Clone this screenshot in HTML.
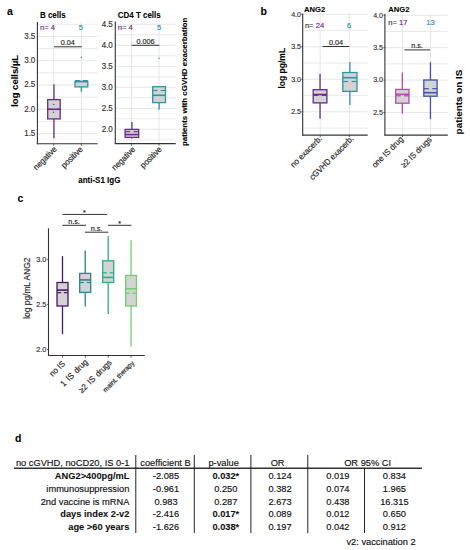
<!DOCTYPE html><html><head><meta charset="utf-8"><style>html,body{margin:0;padding:0;background:#fff;}svg{display:block;}text{font-family:"Liberation Sans", sans-serif;paint-order:stroke;stroke-width:0.15px;stroke-linejoin:round;}</style></head><body>
<svg width="470" height="550" viewBox="0 0 470 550">
<rect width="470" height="550" fill="#fff"/>
<text x="0" y="0" font-size="10.5" text-anchor="start" font-weight="bold" fill="#000" stroke="#000" transform="translate(7 15) scale(1 1.05)" style="stroke-width:0.08px">a</text>
<line x1="37.4" y1="121.45" x2="97.6" y2="121.45" stroke="#e8e8e8" stroke-width="0.9"/>
<line x1="37.4" y1="97.15" x2="97.6" y2="97.15" stroke="#e8e8e8" stroke-width="0.9"/>
<line x1="37.4" y1="72.85" x2="97.6" y2="72.85" stroke="#e8e8e8" stroke-width="0.9"/>
<line x1="37.4" y1="48.55" x2="97.6" y2="48.55" stroke="#e8e8e8" stroke-width="0.9"/>
<line x1="37.4" y1="24.25" x2="97.6" y2="24.25" stroke="#e8e8e8" stroke-width="0.9"/>
<line x1="37.4" y1="133.6" x2="97.6" y2="133.6" stroke="#e3e3e3" stroke-width="0.9"/>
<line x1="37.4" y1="109.3" x2="97.6" y2="109.3" stroke="#e3e3e3" stroke-width="0.9"/>
<line x1="37.4" y1="85.0" x2="97.6" y2="85.0" stroke="#e3e3e3" stroke-width="0.9"/>
<line x1="37.4" y1="60.7" x2="97.6" y2="60.7" stroke="#e3e3e3" stroke-width="0.9"/>
<line x1="37.4" y1="36.4" x2="97.6" y2="36.4" stroke="#e3e3e3" stroke-width="0.9"/>
<line x1="53.8" y1="22" x2="53.8" y2="143.8" stroke="#e3e3e3" stroke-width="0.9"/>
<line x1="81.4" y1="22" x2="81.4" y2="143.8" stroke="#e3e3e3" stroke-width="0.9"/>
<line x1="37.4" y1="22" x2="37.4" y2="144.3" stroke="#333333" stroke-width="1.1"/>
<line x1="36.9" y1="143.8" x2="97.6" y2="143.8" stroke="#333333" stroke-width="1.1"/>
<text x="0" y="0" font-size="8" text-anchor="end" font-weight="normal" fill="#333333" stroke="#333333" transform="translate(35.3 135.9) scale(1 1.05)">1.5</text>
<text x="0" y="0" font-size="8" text-anchor="end" font-weight="normal" fill="#333333" stroke="#333333" transform="translate(35.3 111.6) scale(1 1.05)">2.0</text>
<text x="0" y="0" font-size="8" text-anchor="end" font-weight="normal" fill="#333333" stroke="#333333" transform="translate(35.3 87.3) scale(1 1.05)">2.5</text>
<text x="0" y="0" font-size="8" text-anchor="end" font-weight="normal" fill="#333333" stroke="#333333" transform="translate(35.3 63.0) scale(1 1.05)">3.0</text>
<text x="0" y="0" font-size="8" text-anchor="end" font-weight="normal" fill="#333333" stroke="#333333" transform="translate(35.3 38.7) scale(1 1.05)">3.5</text>
<line x1="53.8" y1="143.8" x2="53.8" y2="145.8" stroke="#333333" stroke-width="0.8"/>
<line x1="81.4" y1="143.8" x2="81.4" y2="145.8" stroke="#333333" stroke-width="0.8"/>
<text x="0" y="0" font-size="8" text-anchor="start" font-weight="bold" fill="#000" stroke="#000" transform="translate(39.9 18.2) scale(1 1.05)" style="stroke-width:0.08px">B cells</text>
<text x="0" y="0" font-size="7.6" text-anchor="start" font-weight="normal" fill="#6a2a88" stroke="#6a2a88" transform="translate(40 30.2) scale(1 1.05)">n= 4</text>
<text x="0" y="0" font-size="7.6" text-anchor="middle" font-weight="normal" fill="#2f93a2" stroke="#2f93a2" transform="translate(80.8 30.2) scale(1 1.05)">5</text>
<line x1="54.1" y1="46.8" x2="81.8" y2="46.8" stroke="#333" stroke-width="1"/>
<text x="0" y="0" font-size="7.2" text-anchor="middle" font-weight="normal" fill="#222" stroke="#222" transform="translate(67.8 45) scale(1 1.05)">0.04</text>
<line x1="53.95" y1="84.2" x2="53.95" y2="99.6" stroke="#6a2a88" stroke-width="1.3"/>
<line x1="53.95" y1="118.9" x2="53.95" y2="138.3" stroke="#6a2a88" stroke-width="1.3"/>
<rect x="47.7" y="99.6" width="12.5" height="19.3" fill="#d3d3d3" stroke="#6a2a88" stroke-width="1.3"/>
<line x1="47.7" y1="109.3" x2="60.2" y2="109.3" stroke="#6a2a88" stroke-width="1.56"/>
<line x1="47.7" y1="109.3" x2="52.39" y2="109.3" stroke="#6a2a88" stroke-width="1.17"/>
<line x1="55.51" y1="109.3" x2="60.2" y2="109.3" stroke="#6a2a88" stroke-width="1.17"/>
<circle cx="53.8" cy="104.5" r="0.7" fill="#6a2a88"/><circle cx="53.5" cy="112.2" r="0.7" fill="#6a2a88"/>
<line x1="81.4" y1="81.4" x2="81.4" y2="81.4" stroke="#2f93a2" stroke-width="1.3"/>
<line x1="81.4" y1="86.9" x2="81.4" y2="91.7" stroke="#2f93a2" stroke-width="1.3"/>
<rect x="75.0" y="81.4" width="12.8" height="5.5" fill="#d3d3d3" stroke="#2f93a2" stroke-width="1.3"/>
<line x1="75.0" y1="81.6" x2="87.8" y2="81.6" stroke="#2f93a2" stroke-width="1.56"/>
<line x1="75.0" y1="80.6" x2="79.8" y2="80.6" stroke="#2f93a2" stroke-width="1.17"/>
<line x1="83.0" y1="80.6" x2="87.8" y2="80.6" stroke="#2f93a2" stroke-width="1.17"/>
<circle cx="81.4" cy="57.5" r="0.7" fill="#2f93a2"/>
<line x1="115.3" y1="139.8" x2="175.7" y2="139.8" stroke="#e8e8e8" stroke-width="0.9"/>
<line x1="115.3" y1="118.8" x2="175.7" y2="118.8" stroke="#e8e8e8" stroke-width="0.9"/>
<line x1="115.3" y1="97.8" x2="175.7" y2="97.8" stroke="#e8e8e8" stroke-width="0.9"/>
<line x1="115.3" y1="76.8" x2="175.7" y2="76.8" stroke="#e8e8e8" stroke-width="0.9"/>
<line x1="115.3" y1="55.8" x2="175.7" y2="55.8" stroke="#e8e8e8" stroke-width="0.9"/>
<line x1="115.3" y1="34.8" x2="175.7" y2="34.8" stroke="#e8e8e8" stroke-width="0.9"/>
<line x1="115.3" y1="129.3" x2="175.7" y2="129.3" stroke="#e3e3e3" stroke-width="0.9"/>
<line x1="115.3" y1="108.3" x2="175.7" y2="108.3" stroke="#e3e3e3" stroke-width="0.9"/>
<line x1="115.3" y1="87.3" x2="175.7" y2="87.3" stroke="#e3e3e3" stroke-width="0.9"/>
<line x1="115.3" y1="66.3" x2="175.7" y2="66.3" stroke="#e3e3e3" stroke-width="0.9"/>
<line x1="115.3" y1="45.3" x2="175.7" y2="45.3" stroke="#e3e3e3" stroke-width="0.9"/>
<line x1="115.3" y1="24.3" x2="175.7" y2="24.3" stroke="#e3e3e3" stroke-width="0.9"/>
<line x1="131.6" y1="21.6" x2="131.6" y2="143.6" stroke="#e3e3e3" stroke-width="0.9"/>
<line x1="159" y1="21.6" x2="159" y2="143.6" stroke="#e3e3e3" stroke-width="0.9"/>
<line x1="115.3" y1="21.6" x2="115.3" y2="144.1" stroke="#333333" stroke-width="1.1"/>
<line x1="114.8" y1="143.6" x2="175.7" y2="143.6" stroke="#333333" stroke-width="1.1"/>
<text x="0" y="0" font-size="8" text-anchor="end" font-weight="normal" fill="#333333" stroke="#333333" transform="translate(112.8 131.6) scale(1 1.05)">2.0</text>
<text x="0" y="0" font-size="8" text-anchor="end" font-weight="normal" fill="#333333" stroke="#333333" transform="translate(112.8 110.6) scale(1 1.05)">2.5</text>
<text x="0" y="0" font-size="8" text-anchor="end" font-weight="normal" fill="#333333" stroke="#333333" transform="translate(112.8 89.6) scale(1 1.05)">3.0</text>
<text x="0" y="0" font-size="8" text-anchor="end" font-weight="normal" fill="#333333" stroke="#333333" transform="translate(112.8 68.6) scale(1 1.05)">3.5</text>
<text x="0" y="0" font-size="8" text-anchor="end" font-weight="normal" fill="#333333" stroke="#333333" transform="translate(112.8 47.6) scale(1 1.05)">4.0</text>
<text x="0" y="0" font-size="8" text-anchor="end" font-weight="normal" fill="#333333" stroke="#333333" transform="translate(112.8 26.6) scale(1 1.05)">4.5</text>
<line x1="131.6" y1="143.6" x2="131.6" y2="145.6" stroke="#333333" stroke-width="0.8"/>
<line x1="159" y1="143.6" x2="159" y2="145.6" stroke="#333333" stroke-width="0.8"/>
<text x="0" y="0" font-size="8" text-anchor="start" font-weight="bold" fill="#000" stroke="#000" transform="translate(117.7 18) scale(1 1.05)" style="stroke-width:0.08px">CD4 T cells</text>
<text x="0" y="0" font-size="7.6" text-anchor="start" font-weight="normal" fill="#6a2a88" stroke="#6a2a88" transform="translate(117.7 30.4) scale(1 1.05)">n= 4</text>
<text x="0" y="0" font-size="7.6" text-anchor="middle" font-weight="normal" fill="#2f93a2" stroke="#2f93a2" transform="translate(159 30.4) scale(1 1.05)">5</text>
<line x1="131.6" y1="45.3" x2="159.4" y2="45.3" stroke="#333" stroke-width="1"/>
<text x="0" y="0" font-size="7.2" text-anchor="middle" font-weight="normal" fill="#222" stroke="#222" transform="translate(145.4 43.5) scale(1 1.05)">0.006</text>
<line x1="131.9" y1="122.1" x2="131.9" y2="129.4" stroke="#6a2a88" stroke-width="1.3"/>
<line x1="131.9" y1="137.4" x2="131.9" y2="138.4" stroke="#6a2a88" stroke-width="1.3"/>
<rect x="125.1" y="129.4" width="13.6" height="8.0" fill="#d3d3d3" stroke="#6a2a88" stroke-width="1.3"/>
<line x1="125.1" y1="134.6" x2="138.7" y2="134.6" stroke="#6a2a88" stroke-width="1.56"/>
<line x1="125.1" y1="131.7" x2="130.2" y2="131.7" stroke="#6a2a88" stroke-width="1.17"/>
<line x1="133.6" y1="131.7" x2="138.7" y2="131.7" stroke="#6a2a88" stroke-width="1.17"/>
<line x1="159.1" y1="86.7" x2="159.1" y2="86.7" stroke="#2f93a2" stroke-width="1.3"/>
<line x1="159.1" y1="102.6" x2="159.1" y2="109.7" stroke="#2f93a2" stroke-width="1.3"/>
<rect x="152.7" y="86.7" width="12.8" height="15.9" fill="#d3d3d3" stroke="#2f93a2" stroke-width="1.3"/>
<line x1="152.7" y1="95.3" x2="165.5" y2="95.3" stroke="#2f93a2" stroke-width="1.56"/>
<line x1="152.7" y1="90.5" x2="157.5" y2="90.5" stroke="#2f93a2" stroke-width="1.17"/>
<line x1="160.7" y1="90.5" x2="165.5" y2="90.5" stroke="#2f93a2" stroke-width="1.17"/>
<circle cx="159" cy="58.3" r="0.7" fill="#2f93a2"/>
<text x="18.2" y="80.8" font-size="9.5" text-anchor="middle" font-weight="bold" fill="#000" stroke="#000" transform="rotate(-90 18.2 80.8)" style="stroke-width:0.08px">log cells/µL</text>
<text x="187.5" y="81.8" font-size="7.9" text-anchor="middle" font-weight="bold" fill="#000" stroke="#000" transform="rotate(-90 187.5 81.8)" style="stroke-width:0.08px">patients with cGVHD exacerbation</text>
<text x="0" y="0" font-size="8" text-anchor="middle" font-weight="bold" fill="#000" stroke="#000" transform="translate(99.3 182.8) scale(1 1.05)" style="stroke-width:0.08px">anti-S1 IgG</text>
<text x="0" y="0" font-size="7.8" text-anchor="end" fill="#222" stroke="#222" transform="translate(57.4 149.7) rotate(-45) scale(1 1.08)">negative</text>
<text x="0" y="0" font-size="7.8" text-anchor="end" fill="#222" stroke="#222" transform="translate(83.2 150) rotate(-45) scale(1 1.08)">positive</text>
<text x="0" y="0" font-size="7.8" text-anchor="end" fill="#222" stroke="#222" transform="translate(135.9 150) rotate(-45) scale(1 1.08)">negative</text>
<text x="0" y="0" font-size="7.8" text-anchor="end" fill="#222" stroke="#222" transform="translate(162.3 150) rotate(-45) scale(1 1.08)">positive</text>
<text x="0" y="0" font-size="10.5" text-anchor="start" font-weight="bold" fill="#000" stroke="#000" transform="translate(260.5 15) scale(1 1.05)" style="stroke-width:0.08px">b</text>
<line x1="302.7" y1="128.05" x2="367.7" y2="128.05" stroke="#e8e8e8" stroke-width="0.9"/>
<line x1="302.7" y1="95.55" x2="367.7" y2="95.55" stroke="#e8e8e8" stroke-width="0.9"/>
<line x1="302.7" y1="63.05" x2="367.7" y2="63.05" stroke="#e8e8e8" stroke-width="0.9"/>
<line x1="302.7" y1="30.55" x2="367.7" y2="30.55" stroke="#e8e8e8" stroke-width="0.9"/>
<line x1="302.7" y1="111.8" x2="367.7" y2="111.8" stroke="#e3e3e3" stroke-width="0.9"/>
<line x1="302.7" y1="79.3" x2="367.7" y2="79.3" stroke="#e3e3e3" stroke-width="0.9"/>
<line x1="302.7" y1="46.8" x2="367.7" y2="46.8" stroke="#e3e3e3" stroke-width="0.9"/>
<line x1="302.7" y1="14.3" x2="367.7" y2="14.3" stroke="#e3e3e3" stroke-width="0.9"/>
<line x1="320.2" y1="13.4" x2="320.2" y2="135.1" stroke="#e3e3e3" stroke-width="0.9"/>
<line x1="349.3" y1="13.4" x2="349.3" y2="135.1" stroke="#e3e3e3" stroke-width="0.9"/>
<line x1="302.7" y1="13.4" x2="302.7" y2="135.6" stroke="#333333" stroke-width="1.1"/>
<line x1="302.2" y1="135.1" x2="367.7" y2="135.1" stroke="#333333" stroke-width="1.1"/>
<line x1="301.2" y1="111.8" x2="302.7" y2="111.8" stroke="#333333" stroke-width="0.8"/>
<text x="0" y="0" font-size="7.1" text-anchor="end" font-weight="normal" fill="#333333" stroke="#333333" transform="translate(301 114.1) scale(1 1.05)">2.5</text>
<line x1="301.2" y1="79.3" x2="302.7" y2="79.3" stroke="#333333" stroke-width="0.8"/>
<text x="0" y="0" font-size="7.1" text-anchor="end" font-weight="normal" fill="#333333" stroke="#333333" transform="translate(301 81.6) scale(1 1.05)">3.0</text>
<line x1="301.2" y1="46.8" x2="302.7" y2="46.8" stroke="#333333" stroke-width="0.8"/>
<text x="0" y="0" font-size="7.1" text-anchor="end" font-weight="normal" fill="#333333" stroke="#333333" transform="translate(301 49.1) scale(1 1.05)">3.5</text>
<line x1="301.2" y1="14.3" x2="302.7" y2="14.3" stroke="#333333" stroke-width="0.8"/>
<text x="0" y="0" font-size="7.1" text-anchor="end" font-weight="normal" fill="#333333" stroke="#333333" transform="translate(301 16.6) scale(1 1.05)">4.0</text>
<line x1="320.2" y1="135.1" x2="320.2" y2="137.1" stroke="#333333" stroke-width="0.8"/>
<line x1="349.3" y1="135.1" x2="349.3" y2="137.1" stroke="#333333" stroke-width="0.8"/>
<text x="0" y="0" font-size="7.6" text-anchor="start" font-weight="bold" fill="#000" stroke="#000" transform="translate(304.1 11.6) scale(1 1.05)" style="stroke-width:0.08px">ANG2</text>
<text x="0" y="0" font-size="7.6" fill="#333" stroke="#333" transform="translate(304.9 27.6) scale(1 1.05)">n= <tspan fill="#6a2a88" stroke="#6a2a88">24</tspan></text>
<text x="0" y="0" font-size="7.6" text-anchor="middle" font-weight="normal" fill="#2f93a2" stroke="#2f93a2" transform="translate(349.1 27.6) scale(1 1.05)">6</text>
<line x1="322.6" y1="46.5" x2="349.3" y2="46.5" stroke="#333" stroke-width="1"/>
<text x="0" y="0" font-size="7.2" text-anchor="middle" font-weight="normal" fill="#222" stroke="#222" transform="translate(335.9 44.8) scale(1 1.05)">0.04</text>
<line x1="320.05" y1="73.8" x2="320.05" y2="89.7" stroke="#6a2a88" stroke-width="1.3"/>
<line x1="320.05" y1="102.9" x2="320.05" y2="118.8" stroke="#6a2a88" stroke-width="1.3"/>
<rect x="313.2" y="89.7" width="13.7" height="13.2" fill="#d3d3d3" stroke="#6a2a88" stroke-width="1.3"/>
<line x1="313.2" y1="94.5" x2="326.9" y2="94.5" stroke="#6a2a88" stroke-width="1.56"/>
<line x1="313.2" y1="95.3" x2="318.34" y2="95.3" stroke="#6a2a88" stroke-width="1.17"/>
<line x1="321.76" y1="95.3" x2="326.9" y2="95.3" stroke="#6a2a88" stroke-width="1.17"/>
<line x1="349.9" y1="62.1" x2="349.9" y2="72.5" stroke="#2f93a2" stroke-width="1.3"/>
<line x1="349.9" y1="91.4" x2="349.9" y2="104.9" stroke="#2f93a2" stroke-width="1.3"/>
<rect x="342.8" y="72.5" width="14.2" height="18.9" fill="#d3d3d3" stroke="#2f93a2" stroke-width="1.3"/>
<line x1="342.8" y1="77.7" x2="357.0" y2="77.7" stroke="#2f93a2" stroke-width="1.56"/>
<line x1="342.8" y1="81.5" x2="348.12" y2="81.5" stroke="#2f93a2" stroke-width="1.17"/>
<line x1="351.67" y1="81.5" x2="357.0" y2="81.5" stroke="#2f93a2" stroke-width="1.17"/>
<line x1="384.9" y1="128.7" x2="447.8" y2="128.7" stroke="#e8e8e8" stroke-width="0.9"/>
<line x1="384.9" y1="96.3" x2="447.8" y2="96.3" stroke="#e8e8e8" stroke-width="0.9"/>
<line x1="384.9" y1="63.9" x2="447.8" y2="63.9" stroke="#e8e8e8" stroke-width="0.9"/>
<line x1="384.9" y1="31.5" x2="447.8" y2="31.5" stroke="#e8e8e8" stroke-width="0.9"/>
<line x1="384.9" y1="112.5" x2="447.8" y2="112.5" stroke="#e3e3e3" stroke-width="0.9"/>
<line x1="384.9" y1="80.1" x2="447.8" y2="80.1" stroke="#e3e3e3" stroke-width="0.9"/>
<line x1="384.9" y1="47.7" x2="447.8" y2="47.7" stroke="#e3e3e3" stroke-width="0.9"/>
<line x1="384.9" y1="15.3" x2="447.8" y2="15.3" stroke="#e3e3e3" stroke-width="0.9"/>
<line x1="402.5" y1="13.8" x2="402.5" y2="135.1" stroke="#e3e3e3" stroke-width="0.9"/>
<line x1="430.5" y1="13.8" x2="430.5" y2="135.1" stroke="#e3e3e3" stroke-width="0.9"/>
<line x1="384.9" y1="13.8" x2="384.9" y2="135.6" stroke="#333333" stroke-width="1.1"/>
<line x1="384.4" y1="135.1" x2="447.8" y2="135.1" stroke="#333333" stroke-width="1.1"/>
<line x1="383.4" y1="112.5" x2="384.9" y2="112.5" stroke="#333333" stroke-width="0.8"/>
<text x="0" y="0" font-size="7.1" text-anchor="end" font-weight="normal" fill="#333333" stroke="#333333" transform="translate(383 114.8) scale(1 1.05)">2.5</text>
<line x1="383.4" y1="80.1" x2="384.9" y2="80.1" stroke="#333333" stroke-width="0.8"/>
<text x="0" y="0" font-size="7.1" text-anchor="end" font-weight="normal" fill="#333333" stroke="#333333" transform="translate(383 82.4) scale(1 1.05)">3.0</text>
<line x1="383.4" y1="47.7" x2="384.9" y2="47.7" stroke="#333333" stroke-width="0.8"/>
<text x="0" y="0" font-size="7.1" text-anchor="end" font-weight="normal" fill="#333333" stroke="#333333" transform="translate(383 50.0) scale(1 1.05)">3.5</text>
<line x1="383.4" y1="15.3" x2="384.9" y2="15.3" stroke="#333333" stroke-width="0.8"/>
<text x="0" y="0" font-size="7.1" text-anchor="end" font-weight="normal" fill="#333333" stroke="#333333" transform="translate(383 17.6) scale(1 1.05)">4.0</text>
<line x1="402.5" y1="135.1" x2="402.5" y2="137.1" stroke="#333333" stroke-width="0.8"/>
<line x1="430.5" y1="135.1" x2="430.5" y2="137.1" stroke="#333333" stroke-width="0.8"/>
<text x="0" y="0" font-size="7.6" text-anchor="start" font-weight="bold" fill="#000" stroke="#000" transform="translate(388.3 11.5) scale(1 1.05)" style="stroke-width:0.08px">ANG2</text>
<text x="0" y="0" font-size="7.6" fill="#333" stroke="#333" transform="translate(388.3 25.3) scale(1 1.05)">n= <tspan fill="#6a2a88" stroke="#6a2a88">17</tspan></text>
<text x="0" y="0" font-size="7.6" text-anchor="middle" font-weight="normal" fill="#2f93a2" stroke="#2f93a2" transform="translate(430.4 25.3) scale(1 1.05)">13</text>
<line x1="404.3" y1="49.9" x2="430" y2="49.9" stroke="#333" stroke-width="1"/>
<text x="0" y="0" font-size="7.2" text-anchor="middle" font-weight="normal" fill="#222" stroke="#222" transform="translate(417 48.3) scale(1 1.05)">n.s.</text>
<line x1="402.35" y1="72.6" x2="402.35" y2="89.4" stroke="#b449b4" stroke-width="1.3"/>
<line x1="402.35" y1="103.2" x2="402.35" y2="113.8" stroke="#b449b4" stroke-width="1.3"/>
<rect x="395.7" y="89.4" width="13.3" height="13.8" fill="#d3d3d3" stroke="#b449b4" stroke-width="1.3"/>
<line x1="395.7" y1="94.3" x2="409.0" y2="94.3" stroke="#b449b4" stroke-width="1.56"/>
<line x1="395.7" y1="95.8" x2="400.69" y2="95.8" stroke="#b449b4" stroke-width="1.17"/>
<line x1="404.01" y1="95.8" x2="409.0" y2="95.8" stroke="#b449b4" stroke-width="1.17"/>
<line x1="430.45" y1="62.2" x2="430.45" y2="80" stroke="#3f4fb0" stroke-width="1.3"/>
<line x1="430.45" y1="96.2" x2="430.45" y2="119.1" stroke="#3f4fb0" stroke-width="1.3"/>
<rect x="423.8" y="80" width="13.3" height="16.2" fill="#d3d3d3" stroke="#3f4fb0" stroke-width="1.3"/>
<line x1="423.8" y1="92.7" x2="437.1" y2="92.7" stroke="#3f4fb0" stroke-width="1.56"/>
<line x1="423.8" y1="88.7" x2="428.79" y2="88.7" stroke="#3f4fb0" stroke-width="1.17"/>
<line x1="432.11" y1="88.7" x2="437.1" y2="88.7" stroke="#3f4fb0" stroke-width="1.17"/>
<text x="284.6" y="68.2" font-size="8.5" text-anchor="middle" font-weight="bold" fill="#000" stroke="#000" transform="rotate(-90 284.6 68.2)" style="stroke-width:0.08px">log pg/mL</text>
<text x="462.4" y="102" font-size="9.9" text-anchor="middle" font-weight="bold" fill="#000" stroke="#000" transform="rotate(-90 462.4 102)" style="stroke-width:0.08px">patients on IS</text>
<text x="0" y="0" font-size="7.8" text-anchor="end" fill="#222" stroke="#222" transform="translate(322.6 139.2) rotate(-45) scale(1 1.08)">no exacerb.</text>
<text x="0" y="0" font-size="7.8" text-anchor="end" fill="#222" stroke="#222" transform="translate(354.2 139.2) rotate(-45) scale(1 1.08)">cGVHD exacerb.</text>
<text x="0" y="0" font-size="7.8" text-anchor="end" fill="#222" stroke="#222" transform="translate(403.7 139.7) rotate(-45) scale(1 1.08)">one IS drug</text>
<text x="0" y="0" font-size="7.8" text-anchor="end" fill="#222" stroke="#222" transform="translate(432.3 140.2) rotate(-45) scale(1 1.08)">≥2 IS drugs</text>
<text x="0" y="0" font-size="10.5" text-anchor="start" font-weight="bold" fill="#000" stroke="#000" transform="translate(17.5 202.3) scale(1 1.05)" style="stroke-width:0.08px">c</text>
<line x1="48.5" y1="228.3" x2="48.5" y2="356" stroke="#333333" stroke-width="1.1"/>
<line x1="48" y1="355.5" x2="144.8" y2="355.5" stroke="#333333" stroke-width="1.1"/>
<line x1="47" y1="349.4" x2="48.5" y2="349.4" stroke="#333333" stroke-width="0.8"/>
<text x="0" y="0" font-size="7.3" text-anchor="end" font-weight="normal" fill="#333333" stroke="#333333" transform="translate(46.4 351.8) scale(1 1.05)">2.0</text>
<line x1="47" y1="304.4" x2="48.5" y2="304.4" stroke="#333333" stroke-width="0.8"/>
<text x="0" y="0" font-size="7.3" text-anchor="end" font-weight="normal" fill="#333333" stroke="#333333" transform="translate(46.4 306.8) scale(1 1.05)">2.5</text>
<line x1="47" y1="259.4" x2="48.5" y2="259.4" stroke="#333333" stroke-width="0.8"/>
<text x="0" y="0" font-size="7.3" text-anchor="end" font-weight="normal" fill="#333333" stroke="#333333" transform="translate(46.4 261.8) scale(1 1.05)">3.0</text>
<line x1="62.4" y1="355.6" x2="62.4" y2="357.6" stroke="#333333" stroke-width="0.8"/>
<line x1="85.3" y1="355.6" x2="85.3" y2="357.6" stroke="#333333" stroke-width="0.8"/>
<line x1="108.2" y1="355.6" x2="108.2" y2="357.6" stroke="#333333" stroke-width="0.8"/>
<line x1="131" y1="355.6" x2="131" y2="357.6" stroke="#333333" stroke-width="0.8"/>
<line x1="62.5" y1="256.1" x2="62.5" y2="282.5" stroke="#4a1668" stroke-width="1.3"/>
<line x1="62.5" y1="306" x2="62.5" y2="334" stroke="#4a1668" stroke-width="1.3"/>
<rect x="57.0" y="282.5" width="11.0" height="23.5" fill="#d3d3d3" stroke="#4a1668" stroke-width="1.3"/>
<line x1="57.0" y1="290.1" x2="68.0" y2="290.1" stroke="#4a1668" stroke-width="1.56"/>
<line x1="57.0" y1="292.7" x2="61.12" y2="292.7" stroke="#4a1668" stroke-width="1.17"/>
<line x1="63.88" y1="292.7" x2="68.0" y2="292.7" stroke="#4a1668" stroke-width="1.17"/>
<line x1="85.2" y1="250.4" x2="85.2" y2="273.4" stroke="#2f7f95" stroke-width="1.3"/>
<line x1="85.2" y1="292.4" x2="85.2" y2="306.5" stroke="#2f7f95" stroke-width="1.3"/>
<rect x="79.7" y="273.4" width="11.0" height="19.0" fill="#d3d3d3" stroke="#2f7f95" stroke-width="1.3"/>
<line x1="79.7" y1="279.9" x2="90.7" y2="279.9" stroke="#2f7f95" stroke-width="1.56"/>
<line x1="79.7" y1="282.5" x2="83.83" y2="282.5" stroke="#2f7f95" stroke-width="1.17"/>
<line x1="86.58" y1="282.5" x2="90.7" y2="282.5" stroke="#2f7f95" stroke-width="1.17"/>
<line x1="108.2" y1="236" x2="108.2" y2="260.8" stroke="#2eac88" stroke-width="1.3"/>
<line x1="108.2" y1="282.5" x2="108.2" y2="314.1" stroke="#2eac88" stroke-width="1.3"/>
<rect x="102.7" y="260.8" width="11.0" height="21.7" fill="#d3d3d3" stroke="#2eac88" stroke-width="1.3"/>
<line x1="102.7" y1="277.4" x2="113.7" y2="277.4" stroke="#2eac88" stroke-width="1.56"/>
<line x1="102.7" y1="272.8" x2="106.83" y2="272.8" stroke="#2eac88" stroke-width="1.17"/>
<line x1="109.58" y1="272.8" x2="113.7" y2="272.8" stroke="#2eac88" stroke-width="1.17"/>
<line x1="131.05" y1="240.2" x2="131.05" y2="275.4" stroke="#70d06c" stroke-width="1.3"/>
<line x1="131.05" y1="306" x2="131.05" y2="346.8" stroke="#70d06c" stroke-width="1.3"/>
<rect x="125.65" y="275.4" width="10.8" height="30.6" fill="#d3d3d3" stroke="#70d06c" stroke-width="1.3"/>
<line x1="125.65" y1="288.8" x2="136.45" y2="288.8" stroke="#70d06c" stroke-width="1.56"/>
<line x1="125.65" y1="293.2" x2="129.7" y2="293.2" stroke="#70d06c" stroke-width="1.17"/>
<line x1="132.4" y1="293.2" x2="136.45" y2="293.2" stroke="#70d06c" stroke-width="1.17"/>
<line x1="62.4" y1="214.4" x2="107.1" y2="214.4" stroke="#333" stroke-width="1"/>
<text x="0" y="0" font-size="7" text-anchor="middle" font-weight="normal" fill="#222" stroke="#222" transform="translate(84.4 215.4) scale(1 1.05)">*</text>
<line x1="62.4" y1="225.3" x2="86" y2="225.3" stroke="#333" stroke-width="1"/>
<text x="0" y="0" font-size="7.2" text-anchor="middle" font-weight="normal" fill="#222" stroke="#222" transform="translate(74 223.9) scale(1 1.05)">n.s.</text>
<line x1="108" y1="225.3" x2="131.4" y2="225.3" stroke="#333" stroke-width="1"/>
<text x="0" y="0" font-size="7" text-anchor="middle" font-weight="normal" fill="#222" stroke="#222" transform="translate(119.7 226.2) scale(1 1.05)">*</text>
<line x1="85" y1="232.2" x2="108.4" y2="232.2" stroke="#333" stroke-width="1"/>
<text x="0" y="0" font-size="7.2" text-anchor="middle" font-weight="normal" fill="#222" stroke="#222" transform="translate(96.5 230.9) scale(1 1.05)">n.s.</text>
<text x="29.6" y="288.2" font-size="8.4" text-anchor="middle" font-weight="normal" fill="#222" stroke="#222" transform="rotate(-90 29.6 288.2)">log pg/mL ANG2</text>
<text x="0" y="0" font-size="7.8" text-anchor="end" fill="#222" stroke="#222" transform="translate(65.6 364.2) rotate(-45) scale(1 1.08)">no IS</text>
<text x="0" y="0" font-size="7.9" text-anchor="end" fill="#222" stroke="#222" transform="translate(88.3 362.6) rotate(-45) scale(1 1.08)" word-spacing="1.3">1 IS drug</text>
<text x="0" y="0" font-size="7.9" text-anchor="end" fill="#222" stroke="#222" transform="translate(112.4 363.2) rotate(-45) scale(1 1.08)" word-spacing="1.3">≥2 IS drugs</text>
<text x="0" y="0" font-size="6.5" text-anchor="end" fill="#222" stroke="#222" transform="translate(134.7 363.6) rotate(-45) scale(1 1.08)">maint. therapy</text>
<text x="0" y="0" font-size="10.5" text-anchor="start" font-weight="bold" fill="#000" stroke="#000" transform="translate(15 441.7) scale(1 1.05)" style="stroke-width:0.08px">d</text>
<line x1="14" y1="468.3" x2="422" y2="468.3" stroke="#333" stroke-width="1.6"/>
<line x1="135.8" y1="455" x2="135.8" y2="533" stroke="#222" stroke-width="1"/>
<line x1="194.3" y1="455" x2="194.3" y2="533" stroke="#222" stroke-width="1"/>
<line x1="250.9" y1="455" x2="250.9" y2="533" stroke="#222" stroke-width="1"/>
<line x1="307.8" y1="455" x2="307.8" y2="533" stroke="#222" stroke-width="1"/>
<line x1="364.5" y1="468.3" x2="364.5" y2="533" stroke="#222" stroke-width="1"/>
<text x="0" y="0" font-size="9.3" text-anchor="end" font-weight="normal" fill="#111" stroke="#111" transform="translate(129.4 466) scale(1 1.05)">no cGVHD, noCD20, IS 0-1</text>
<text x="0" y="0" font-size="9.3" text-anchor="middle" font-weight="normal" fill="#111" stroke="#111" transform="translate(165.5 466) scale(1 1.05)">coefficient B</text>
<text x="0" y="0" font-size="9.3" text-anchor="middle" font-weight="normal" fill="#111" stroke="#111" transform="translate(223.6 466) scale(1 1.05)">p-value</text>
<text x="0" y="0" font-size="9.3" text-anchor="middle" font-weight="normal" fill="#111" stroke="#111" transform="translate(277.6 466) scale(1 1.05)">OR</text>
<text x="0" y="0" font-size="9.3" text-anchor="middle" font-weight="normal" fill="#111" stroke="#111" transform="translate(367.6 466) scale(1 1.05)">OR 95% CI</text>
<text x="0" y="0" font-size="9.3" text-anchor="end" font-weight="bold" fill="#111" stroke="#111" transform="translate(129.4 478.9) scale(1 1.05)" style="stroke-width:0.08px">ANG2&gt;400pg/mL</text>
<text x="0" y="0" font-size="9.3" text-anchor="middle" font-weight="normal" fill="#111" stroke="#111" transform="translate(166 478.9) scale(1 1.05)">-2.085</text>
<text x="0" y="0" font-size="9.3" text-anchor="middle" font-weight="bold" fill="#111" stroke="#111" transform="translate(225.8 478.9) scale(1 1.05)" style="stroke-width:0.08px">0.032*</text>
<text x="0" y="0" font-size="9.3" text-anchor="middle" font-weight="normal" fill="#111" stroke="#111" transform="translate(280 478.9) scale(1 1.05)">0.124</text>
<text x="0" y="0" font-size="9.3" text-anchor="middle" font-weight="normal" fill="#111" stroke="#111" transform="translate(337.9 478.9) scale(1 1.05)">0.019</text>
<text x="0" y="0" font-size="9.3" text-anchor="middle" font-weight="normal" fill="#111" stroke="#111" transform="translate(394.4 478.9) scale(1 1.05)">0.834</text>
<text x="0" y="0" font-size="9.3" text-anchor="end" font-weight="normal" fill="#111" stroke="#111" transform="translate(129.4 491.5) scale(1 1.05)">immunosuppression</text>
<text x="0" y="0" font-size="9.3" text-anchor="middle" font-weight="normal" fill="#111" stroke="#111" transform="translate(166 491.5) scale(1 1.05)">-0.961</text>
<text x="0" y="0" font-size="9.3" text-anchor="middle" font-weight="normal" fill="#111" stroke="#111" transform="translate(225.8 491.5) scale(1 1.05)">0.250</text>
<text x="0" y="0" font-size="9.3" text-anchor="middle" font-weight="normal" fill="#111" stroke="#111" transform="translate(280 491.5) scale(1 1.05)">0.382</text>
<text x="0" y="0" font-size="9.3" text-anchor="middle" font-weight="normal" fill="#111" stroke="#111" transform="translate(337.9 491.5) scale(1 1.05)">0.074</text>
<text x="0" y="0" font-size="9.3" text-anchor="middle" font-weight="normal" fill="#111" stroke="#111" transform="translate(394.4 491.5) scale(1 1.05)">1.965</text>
<text x="0" y="0" font-size="9.3" text-anchor="end" font-weight="normal" fill="#111" stroke="#111" transform="translate(129.4 504.6) scale(1 1.05)">2nd vaccine is mRNA</text>
<text x="0" y="0" font-size="9.3" text-anchor="middle" font-weight="normal" fill="#111" stroke="#111" transform="translate(166 504.6) scale(1 1.05)">0.983</text>
<text x="0" y="0" font-size="9.3" text-anchor="middle" font-weight="normal" fill="#111" stroke="#111" transform="translate(225.8 504.6) scale(1 1.05)">0.287</text>
<text x="0" y="0" font-size="9.3" text-anchor="middle" font-weight="normal" fill="#111" stroke="#111" transform="translate(280 504.6) scale(1 1.05)">2.673</text>
<text x="0" y="0" font-size="9.3" text-anchor="middle" font-weight="normal" fill="#111" stroke="#111" transform="translate(337.9 504.6) scale(1 1.05)">0.438</text>
<text x="0" y="0" font-size="9.3" text-anchor="middle" font-weight="normal" fill="#111" stroke="#111" transform="translate(394.4 504.6) scale(1 1.05)">16.315</text>
<text x="0" y="0" font-size="9.3" text-anchor="end" font-weight="bold" fill="#111" stroke="#111" transform="translate(129.4 517.3) scale(1 1.05)" style="stroke-width:0.08px">days index 2-v2</text>
<text x="0" y="0" font-size="9.3" text-anchor="middle" font-weight="normal" fill="#111" stroke="#111" transform="translate(166 517.3) scale(1 1.05)">-2.416</text>
<text x="0" y="0" font-size="9.3" text-anchor="middle" font-weight="bold" fill="#111" stroke="#111" transform="translate(225.8 517.3) scale(1 1.05)" style="stroke-width:0.08px">0.017*</text>
<text x="0" y="0" font-size="9.3" text-anchor="middle" font-weight="normal" fill="#111" stroke="#111" transform="translate(280 517.3) scale(1 1.05)">0.089</text>
<text x="0" y="0" font-size="9.3" text-anchor="middle" font-weight="normal" fill="#111" stroke="#111" transform="translate(337.9 517.3) scale(1 1.05)">0.012</text>
<text x="0" y="0" font-size="9.3" text-anchor="middle" font-weight="normal" fill="#111" stroke="#111" transform="translate(394.4 517.3) scale(1 1.05)">0.650</text>
<text x="0" y="0" font-size="9.3" text-anchor="end" font-weight="bold" fill="#111" stroke="#111" transform="translate(129.4 529.6) scale(1 1.05)" style="stroke-width:0.08px">age &gt;60 years</text>
<text x="0" y="0" font-size="9.3" text-anchor="middle" font-weight="normal" fill="#111" stroke="#111" transform="translate(166 529.6) scale(1 1.05)">-1.626</text>
<text x="0" y="0" font-size="9.3" text-anchor="middle" font-weight="bold" fill="#111" stroke="#111" transform="translate(225.8 529.6) scale(1 1.05)" style="stroke-width:0.08px">0.038*</text>
<text x="0" y="0" font-size="9.3" text-anchor="middle" font-weight="normal" fill="#111" stroke="#111" transform="translate(280 529.6) scale(1 1.05)">0.197</text>
<text x="0" y="0" font-size="9.3" text-anchor="middle" font-weight="normal" fill="#111" stroke="#111" transform="translate(337.9 529.6) scale(1 1.05)">0.042</text>
<text x="0" y="0" font-size="9.3" text-anchor="middle" font-weight="normal" fill="#111" stroke="#111" transform="translate(394.4 529.6) scale(1 1.05)">0.912</text>
<text x="0" y="0" font-size="9.3" text-anchor="middle" font-weight="normal" fill="#111" stroke="#111" transform="translate(381 545) scale(1 1.05)">v2: vaccination 2</text>
</svg></body></html>
